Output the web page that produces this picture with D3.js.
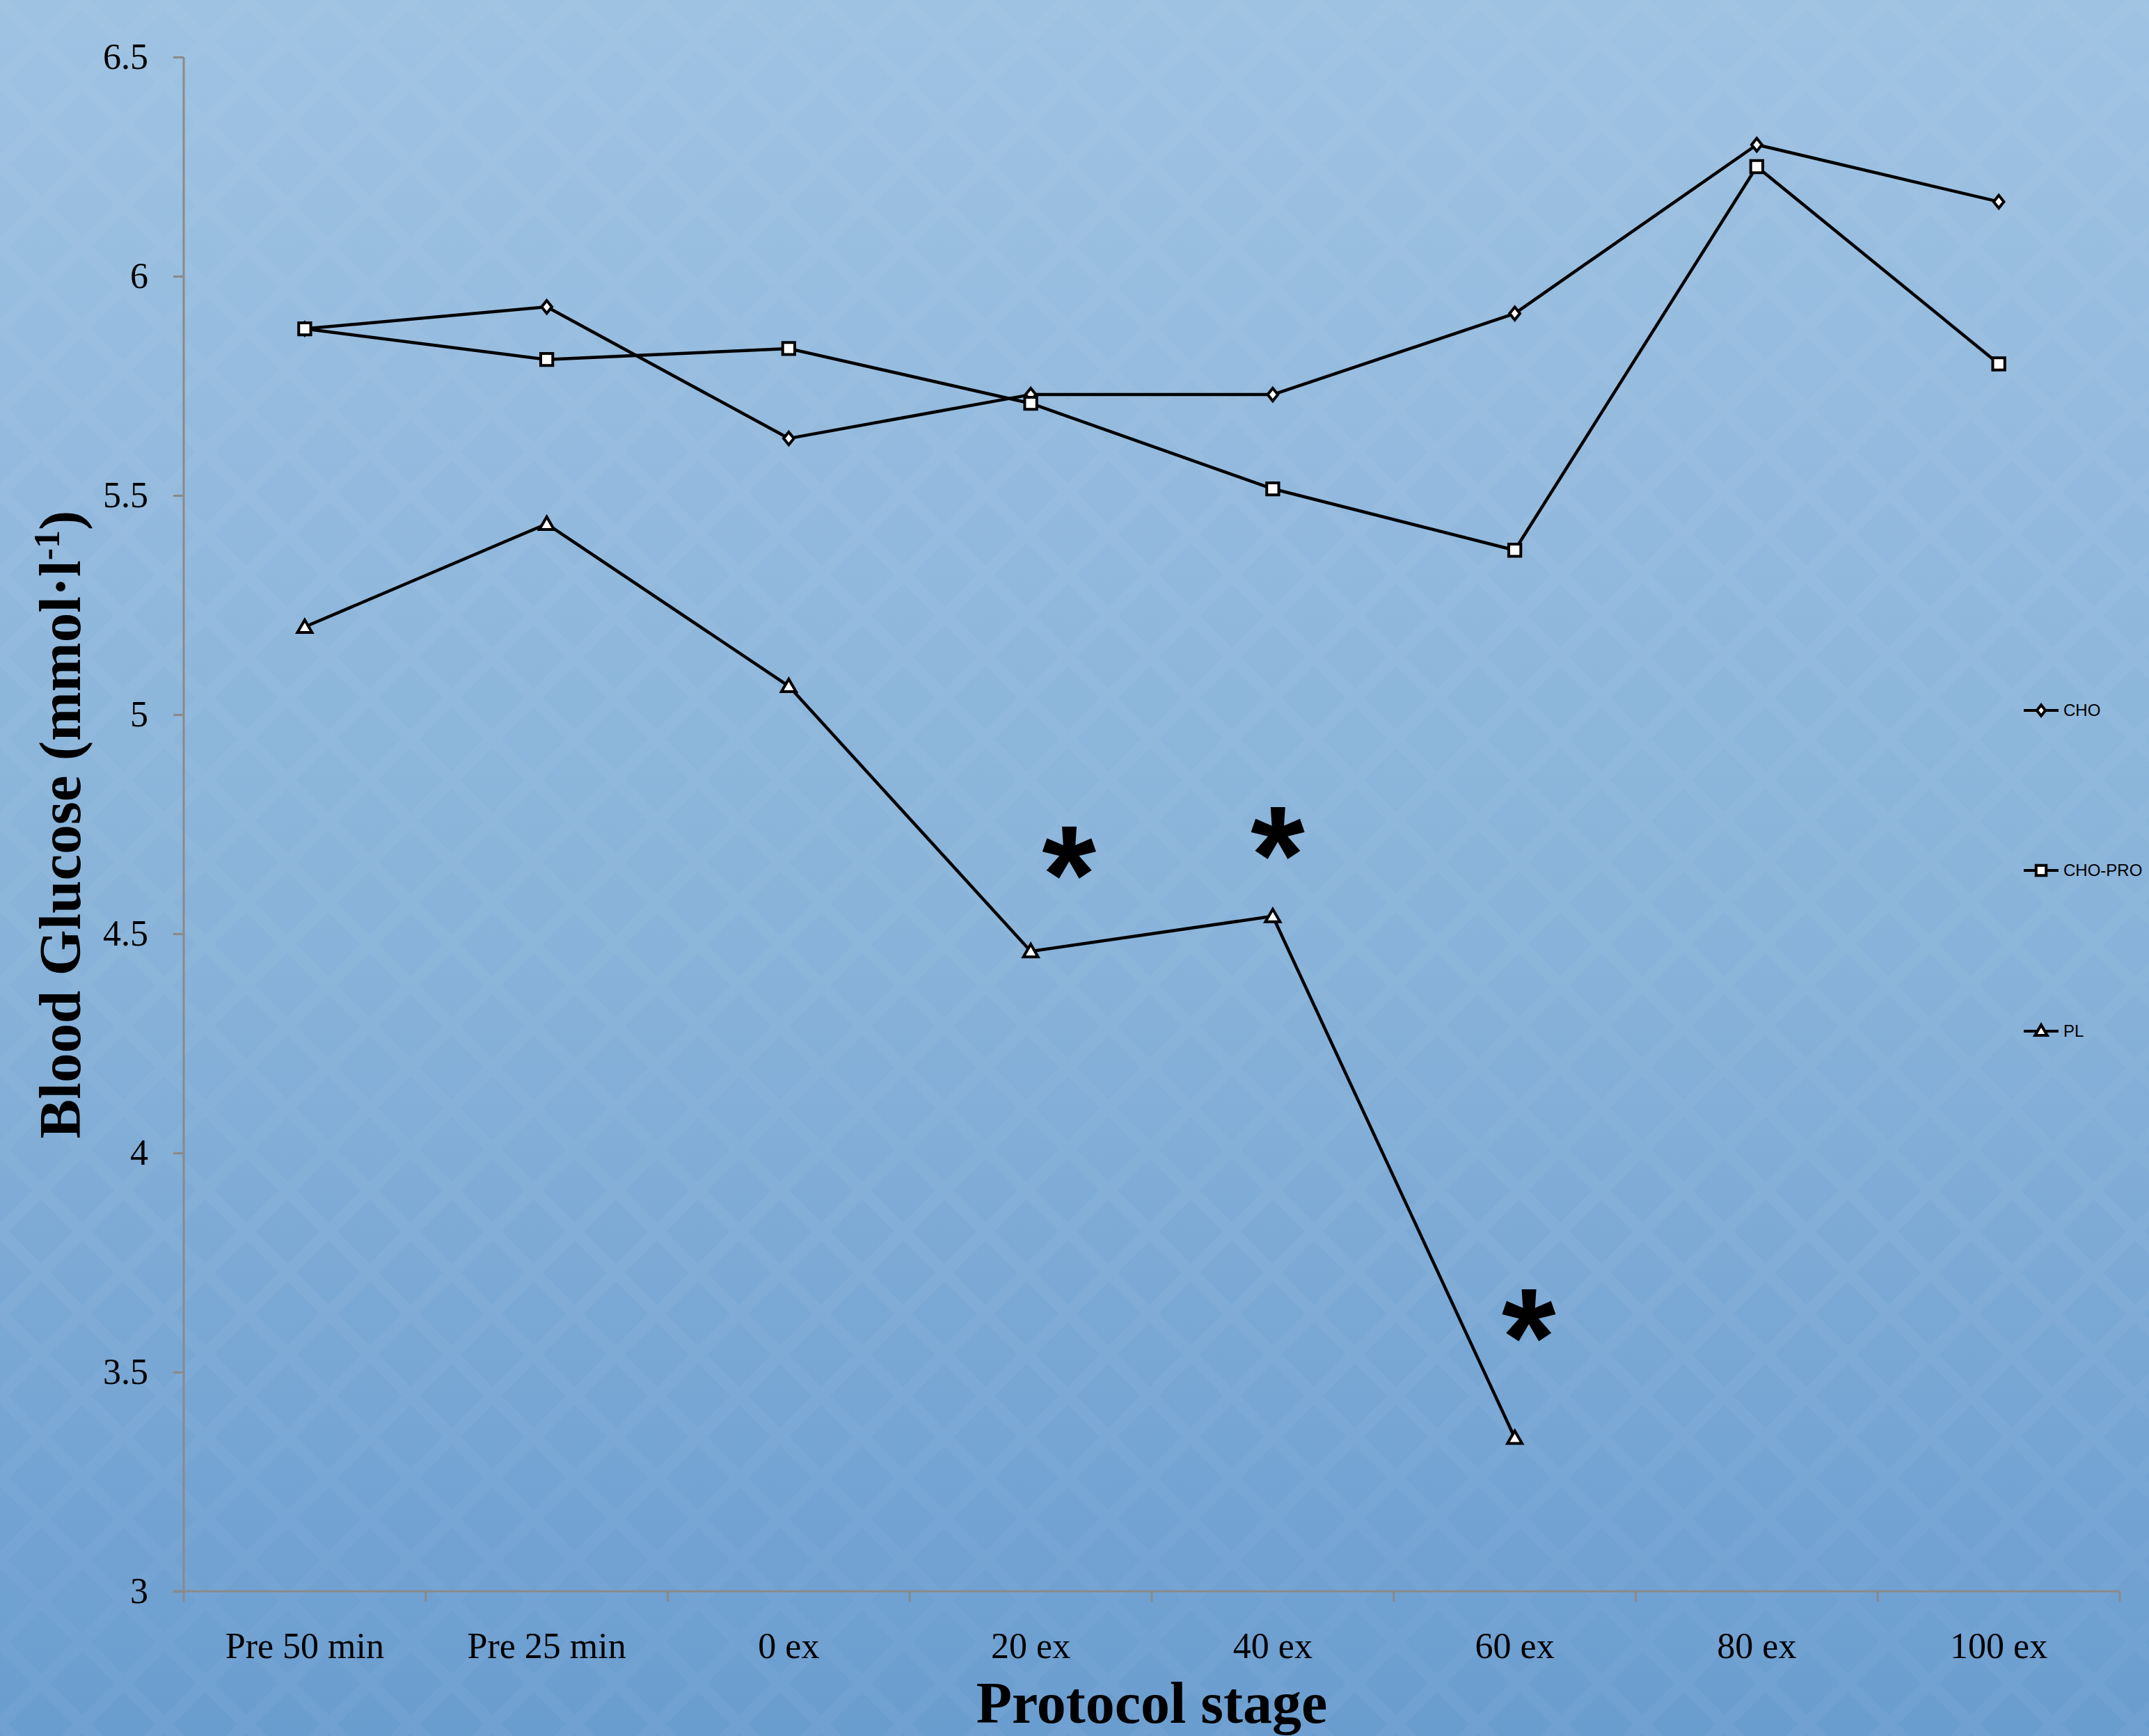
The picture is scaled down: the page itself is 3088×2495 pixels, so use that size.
<!DOCTYPE html>
<html>
<head>
<meta charset="utf-8">
<script src="https://cdn.jsdelivr.net/npm/d3@7/dist/d3.min.js"></script>
<style>
html,body{margin:0;padding:0;background:#8fb5da;}
svg{display:block;}
</style>
</head>
<body>
<script>
// ---- data ----
const categories = ["Pre 50 min","Pre 25 min","0 ex","20 ex","40 ex","60 ex","80 ex","100 ex"];
const seriesNames = ["CHO","CHO-PRO","PL"];
const choValues    = [5.88, 5.93, 5.63, 5.73, 5.73, 5.915, 6.30, 6.17];
const choProValues = [5.88, 5.81, 5.835, 5.71, 5.515, 5.375, 6.25, 5.80];
const plValues     = [5.20, 5.435, 5.065, 4.46, 4.54, 3.35, null, null];
const yTickValues  = [3, 3.5, 4, 4.5, 5, 5.5, 6, 6.5];
const yTickLabels  = ["3","3.5","4","4.5","5","5.5","6","6.5"];
// significance markers: category, value position
const starCats   = ["20 ex","40 ex","60 ex"];
const starValues = [4.70, 4.745, 3.645];
const starDx     = [55, 7, 20];

const W = 3088, H = 2495;
const svg = d3.select("body").append("svg").attr("width", W).attr("height", H);

// ---- background ----
const defs = svg.append("defs");
const grad = defs.append("linearGradient").attr("id","bg").attr("x1",0).attr("y1",0).attr("x2",0).attr("y2",1);
grad.append("stop").attr("offset","0%").attr("stop-color","#9ec2e2");
grad.append("stop").attr("offset","55%").attr("stop-color","#88b2d9");
grad.append("stop").attr("offset","100%").attr("stop-color","#6a9dcf");
const pat = defs.append("pattern").attr("id","maze").attr("patternUnits","userSpaceOnUse")
  .attr("width",236).attr("height",236);
pat.append("path").attr("d","M0,0L236,236M236,0L0,236M118,0L0,118M118,0L236,118M0,118L118,236M236,118L118,236")
  .attr("stroke","#ffffff").attr("stroke-opacity",0.035).attr("stroke-width",18).attr("fill","none");
svg.append("rect").attr("width",W).attr("height",H).attr("fill","url(#bg)");
svg.append("rect").attr("width",W).attr("height",H).attr("fill","url(#maze)");

// ---- scales ----
const x = d3.scaleBand().domain(categories).range([264, 3046]);
const y = d3.scaleLinear().domain([3, 6.5]).range([2287, 82]);
const cx = c => x(c) + x.bandwidth()/2;

const axisColor = "#8a8a8a";
// y axis
const yAxis = svg.append("g").attr("transform","translate(264,0)")
  .call(d3.axisLeft(y).tickValues(yTickValues).tickSize(15).tickPadding(36)
    .tickFormat((d,i) => yTickLabels[i]));
yAxis.select(".domain").attr("stroke",axisColor).attr("stroke-width",3).attr("d","M0,82V2302");
yAxis.selectAll(".tick line").attr("stroke",axisColor).attr("stroke-width",3);
yAxis.selectAll("text").attr("font-family","'Liberation Serif','Times New Roman',serif")
  .attr("font-size",52).attr("fill","#000");

// x axis
const xAxis = svg.append("g").attr("transform","translate(0,2287)")
  .call(d3.axisBottom(x).tickSize(0).tickPadding(0));
xAxis.select(".domain").attr("stroke",axisColor).attr("stroke-width",3).attr("d","M249,0H3046");
xAxis.selectAll("text").attr("font-family","'Liberation Serif','Times New Roman',serif")
  .attr("font-size",52).attr("fill","#000").attr("y",96).attr("dy",0);
const bounds = categories.slice(1).map(c => x(c)).concat([x.range()[1]]);
xAxis.selectAll(".bound").data(bounds).enter().append("line")
  .attr("x1",d=>d).attr("x2",d=>d).attr("y1",0).attr("y2",15)
  .attr("stroke",axisColor).attr("stroke-width",3);

// ---- titles ----
svg.append("text").attr("x",1655).attr("y",2476).attr("text-anchor","middle")
  .attr("font-family","'Liberation Serif','Times New Roman',serif").attr("font-weight","bold")
  .attr("font-size",84).attr("fill","#000").text("Protocol stage");
const yt = svg.append("text").attr("transform","translate(115,1185) rotate(-90)").attr("text-anchor","middle")
  .attr("font-family","'Liberation Serif','Times New Roman',serif").attr("font-weight","bold")
  .attr("font-size",85).attr("fill","#000");
yt.append("tspan").text("Blood Glucose (mmol·l");
yt.append("tspan").attr("font-size",52).attr("dy",-30).text("-1");
yt.append("tspan").attr("dy",30).text(")");

// ---- marker shapes ----
const diamondType = {draw(ctx, size){ const h = Math.sqrt(size)/2; const w = h*0.8;
  ctx.moveTo(0,-h); ctx.lineTo(w,0); ctx.lineTo(0,h); ctx.lineTo(-w,0); ctx.closePath(); }};

// ---- series ----
const series = [
  {name: seriesNames[0], values: choValues, sym: diamondType, size: 340, dy: 0},
  {name: seriesNames[1], values: choProValues, sym: d3.symbolSquare, size: 300, dy: 0},
  {name: seriesNames[2], values: plValues, sym: d3.symbolTriangle, size: 190, dy: 2}
];
const line = d3.line().defined(d => d.v != null).x(d => cx(d.c)).y(d => y(d.v));

series.forEach(s => {
  const pts = categories.map((c,i) => ({c, v: s.values[i]})).filter(d => d.v != null);
  svg.append("path").datum(pts).attr("d", line).attr("fill","none")
    .attr("stroke","#000").attr("stroke-width",4.5).attr("stroke-linejoin","round");
  svg.selectAll(null).data(pts).enter().append("path")
    .attr("d", d3.symbol().type(s.sym).size(s.size)())
    .attr("transform", d => `translate(${cx(d.c)},${y(d.v) + s.dy})`)
    .attr("fill","#fff").attr("stroke","#000").attr("stroke-width",4);
});

// ---- asterisks ----
svg.selectAll(".star").data(starCats).enter().append("text")
  .attr("x",(d,i) => cx(d) + starDx[i])
  .attr("y",(d,i) => y(starValues[i]) + 110)
  .attr("text-anchor","middle")
  .attr("font-family","'Liberation Sans',Arial,sans-serif").attr("font-weight","bold")
  .attr("font-size",200).attr("fill","#000").text("*");

// ---- legend ----
const legY = [1021, 1251, 1482];
series.forEach((s,i) => {
  const g = svg.append("g").attr("transform",`translate(2908,${legY[i]})`);
  g.append("line").attr("x1",0).attr("x2",50).attr("y1",0).attr("y2",0).attr("stroke","#000").attr("stroke-width",4);
  g.append("path").attr("d", d3.symbol().type(s.sym).size(s.size*0.7)())
    .attr("transform", `translate(25,${s.dy/2})`)
    .attr("fill","#fff").attr("stroke","#000").attr("stroke-width",4);
  g.append("text").attr("x",57).attr("y",0).attr("dy","0.35em")
    .attr("font-family","'Liberation Sans',Arial,sans-serif").attr("font-size",24).attr("fill","#000")
    .text(s.name);
});
</script>
</body>
</html>
